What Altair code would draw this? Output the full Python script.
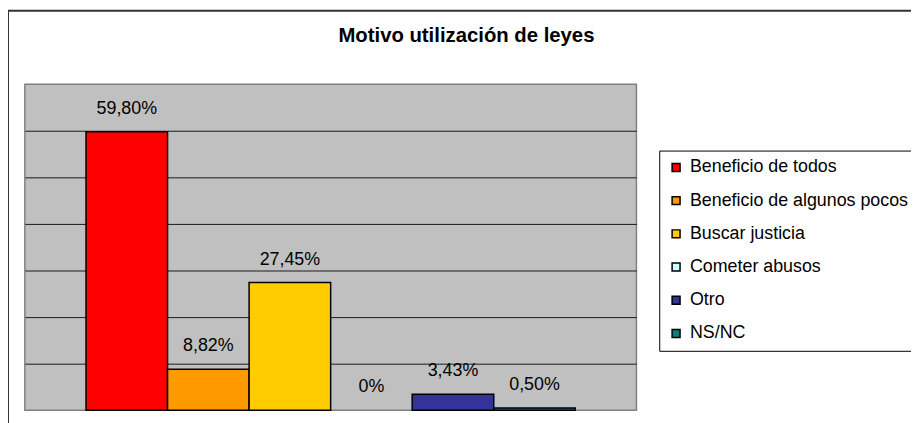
import altair as alt
import pandas as pd

categorias = ["Beneficio de todos", "Beneficio de algunos pocos", "Buscar justicia",
              "Cometer abusos", "Otro", "NS/NC"]
valores = [59.80, 8.82, 27.45, 0.0, 3.43, 0.50]
etiquetas = ["59,80%", "8,82%", "27,45%", "0%", "3,43%", "0,50%"]
colores = ["#FF0000", "#FF9900", "#FFCC00", "#CCFFFF", "#333399", "#008080"]
grid_values = [10, 20, 30, 40, 50, 60]
titulo = "Motivo utilización de leyes"

df = pd.DataFrame({"cat": categorias, "valor": valores, "etiqueta": etiquetas})
frame_df = pd.DataFrame({"k": [0]})

W, H = 617, 329
FONT = "Liberation Sans"

x = alt.X("cat:N", sort=categorias,
          scale=alt.Scale(paddingInner=0, paddingOuter=0.75), axis=None)
y = alt.Y("valor:Q", scale=alt.Scale(domain=[0, 70], nice=False),
          axis=alt.Axis(values=grid_values, grid=True, gridColor="#1a1a1a", gridWidth=1,
                        labels=False, ticks=False, domain=False, title=None))

bars = alt.Chart(df).mark_bar(stroke="black", strokeWidth=1.5).encode(
    x=x,
    y=y,
    color=alt.Color("cat:N", sort=categorias,
                    scale=alt.Scale(domain=categorias, range=colores),
                    legend=alt.Legend(title=None, orient="none", legendX=640, legendY=67,
                                      symbolType="square", symbolSize=64,
                                      symbolStrokeColor="black", symbolStrokeWidth=1.5,
                                      labelFont=FONT, labelFontSize=18, labelColor="black",
                                      labelLimit=500, labelOffset=5, rowPadding=15.5,
                                      padding=8, strokeColor="black", fillColor="white")),
    strokeOpacity=alt.condition("datum.valor > 0", alt.value(1), alt.value(0)),
)

labels = alt.Chart(df).mark_text(font=FONT, fontSize=18, baseline="middle", dy=-23,
                                 color="black").encode(x=x, y=y, text="etiqueta:N")

top_line = alt.Chart(frame_df).mark_rule(color="#333333", strokeWidth=2).encode(
    x=alt.value(-17), x2=alt.value(900), y=alt.value(-74))
left_line = alt.Chart(frame_df).mark_rule(color="#333333", strokeWidth=2).encode(
    x=alt.value(-17), y=alt.value(-74), y2=alt.value(345))

chart = alt.layer(bars, labels, top_line, left_line).properties(
    width=W, height=H,
    title=alt.TitleParams(titulo, font=FONT, fontSize=20.5, fontWeight="bold", color="black",
                          anchor="middle", frame="group", dx=137, offset=-53,
                          baseline="alphabetic"),
    autosize=alt.AutoSizeParams(type="none"),
    padding={"left": 17, "top": 75, "right": 277, "bottom": 11},
).configure(background="white").configure_view(
    fill="#C0C0C0", stroke="#808080", strokeWidth=1.5)

chart.save("out.html", embed_options={"renderer": "svg", "actions": False})
